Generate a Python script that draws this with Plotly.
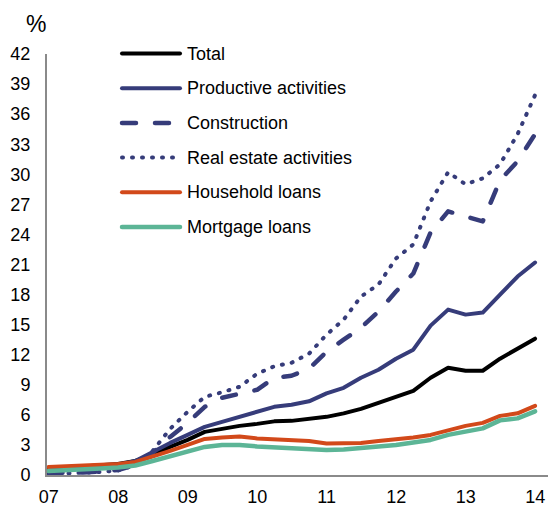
import plotly.graph_objects as go
import pandas as pd

# Quarter-end dates, Dec 2006 .. Dec 2013
quarters = pd.date_range("2006-12-31", periods=29, freq="QE").strftime("%Y-%m-%d").tolist()

total = [0.6, 0.7, 0.8, 0.9, 1.1, 1.4, 2.0, 2.8, 3.5, 4.3, 4.6, 4.9, 5.1, 5.35, 5.4,
         5.6, 5.8, 6.15, 6.6, 7.2, 7.8, 8.4, 9.7, 10.7, 10.4, 10.4, 11.6, 12.6, 13.6]
productive = [0.5, 0.6, 0.7, 0.85, 1.0, 1.4, 2.3, 3.2, 4.0, 4.8, 5.3, 5.8, 6.3, 6.8, 7.0,
              7.35, 8.15, 8.7, 9.7, 10.5, 11.6, 12.5, 14.9, 16.5, 16.0, 16.2, 18.0, 19.8, 21.2]
construction = [0.2, 0.2, 0.25, 0.35, 0.5, 1.0, 2.2, 3.8, 5.2, 6.8, 7.7, 8.1, 8.5, 9.7, 9.9,
                10.6, 12.3, 13.5, 14.7, 16.3, 18.3, 20.1, 24.2, 26.3, 25.8, 25.3, 29.4, 31.3, 34.0]
real_estate = [0.1, 0.15, 0.2, 0.3, 0.45, 1.0, 2.4, 4.6, 6.3, 7.8, 8.25, 8.8, 10.1, 10.85, 11.2,
               12.1, 14.0, 15.5, 17.8, 19.0, 21.6, 23.0, 27.3, 30.2, 29.0, 29.6, 31.0, 34.0, 37.9]
household = [0.8, 0.85, 0.9, 1.0, 1.1, 1.3, 1.8, 2.4, 3.0, 3.6, 3.75, 3.85, 3.65, 3.55, 3.45,
             3.4, 3.15, 3.15, 3.2, 3.4, 3.55, 3.75, 4.0, 4.5, 4.9, 5.2, 5.9, 6.15, 6.9]
mortgage = [0.4, 0.45, 0.55, 0.65, 0.75, 0.95, 1.4, 1.9, 2.35, 2.8, 3.0, 3.0, 2.85, 2.75, 2.7,
            2.65, 2.5, 2.55, 2.65, 2.85, 3.0, 3.2, 3.5, 4.0, 4.3, 4.65, 5.45, 5.65, 6.35]

names = ["Total", "Productive activities", "Construction", "Real estate activities",
         "Household loans", "Mortgage loans"]
values = [total, productive, construction, real_estate, household, mortgage]

NAVY = "#363c7a"
colors = ["#000000", NAVY, NAVY, NAVY, "#d2491a", "#5cb596"]
dashes = ["solid", "solid", "14px,19px", "1px,9px", "solid", "solid"]
widths = [4, 4, 4.5, 4, 4, 4.5]

year_ticks = [f"{y}-01-01" for y in range(2007, 2015)]
year_text = [f"{y % 100:02d}" for y in range(2007, 2015)]
y_ticks = list(range(0, 43, 3))

W, H = 549, 509
L, R, T, B = 47, 1, 54, 34
PW, PH = W - L - R, H - T - B

FONT = "Liberation Sans, Arial, sans-serif"

fig = go.Figure()
for n, v, c, d, w in zip(names, values, colors, dashes, widths):
    fig.add_trace(go.Scatter(x=quarters, y=v, mode="lines", name=n,
                             line=dict(color=c, width=w, dash=d),
                             showlegend=False, hoverinfo="skip"))

def px_x(p):
    return (p - L) / PW

def px_y(p):
    return (H - B - p) / PH

shapes = []
annotations = []
row0, step = 53.5, 34.7
for k, (n, c, d, w) in enumerate(zip(names, colors, dashes, widths)):
    yy = px_y(row0 + step * k)
    x0, x1 = 122, 180
    if d == "1px,9px":
        x1 = 174
    shapes.append(dict(type="line", xref="paper", yref="paper",
                       x0=px_x(x0), x1=px_x(x1), y0=yy, y1=yy,
                       line=dict(color=c, width=w, dash=d)))
    annotations.append(dict(text=n, xref="paper", yref="paper", x=px_x(185), y=yy,
                            xanchor="left", yanchor="middle", showarrow=False,
                            font=dict(family=FONT, size=18, color="#000000")))

annotations.append(dict(text="%", xref="paper", yref="paper", x=px_x(36), y=px_y(24),
                        xanchor="center", yanchor="middle", showarrow=False,
                        font=dict(family=FONT, size=23, color="#000000")))

fig.update_layout(
    width=W, height=H,
    margin=dict(l=L, r=R, t=T, b=B, pad=0, autoexpand=False),
    paper_bgcolor="white", plot_bgcolor="white",
    font=dict(family=FONT, size=18, color="#000000"),
    shapes=shapes, annotations=annotations,
    xaxis=dict(type="date", range=["2006-12-23", "2014-03-09"],
               tickvals=year_ticks, ticktext=year_text, automargin=False,
               showgrid=False, zeroline=False, showline=True,
               linecolor="#8a8a8a", linewidth=2, ticks="",
               ticklabelstandoff=4, tickfont=dict(size=18)),
    yaxis=dict(range=[0, 42], tickvals=y_ticks, showgrid=False, zeroline=False,
               automargin=False,
               showline=True, linecolor="#8a8a8a", linewidth=2, ticks="",
               ticklabelstandoff=11, tickfont=dict(size=18)),
)

post = """
document.body.style.margin='0';
document.body.style.overflow='hidden';
document.querySelectorAll('path.js-line, .shapelayer path').forEach(function(p){
  p.style.strokeLinecap='round'; p.style.strokeLinejoin='round';
});
"""
fig.write_html("out.html", post_script=post, config={"displayModeBar": False})
